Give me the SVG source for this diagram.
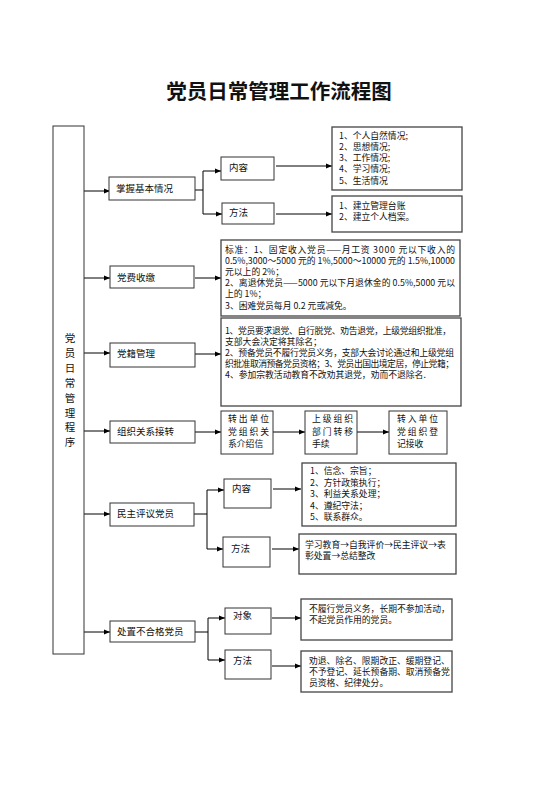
<svg xmlns="http://www.w3.org/2000/svg" width="560" height="792" viewBox="0 0 560 792">
<style>
text{font-family:"Noto Sans CJK SC","Noto Sans",sans-serif;fill:#111;}
.title{font-size:20.5px;font-weight:bold;}
.lbl{font-size:9.5px;}
.t{font-size:8.8px;}
.box{fill:#fff;stroke:#333;stroke-width:1;}
.cbox{fill:#fff;stroke:#444;stroke-width:1.3;}
.ln{fill:none;stroke:#000;stroke-width:1;}
.arr{fill:none;stroke:#000;stroke-width:1;marker-end:url(#ah);}
</style>
<defs>
<marker id="ah" markerUnits="userSpaceOnUse" markerWidth="7" markerHeight="6" refX="6" refY="3" orient="auto">
<path d="M0,0.5 L6,3 L0,5.5 z" fill="#000"/>
</marker>
</defs>
<rect width="560" height="792" fill="#fff"/>
<text class="title" x="279" y="99" text-anchor="middle">党员日常管理工作流程图</text>

<g id="connectors">
<line class="arr" x1="84" y1="191" x2="110" y2="191"/>
<line class="ln" x1="195" y1="190" x2="203" y2="190"/>
<line class="ln" x1="203" y1="171" x2="203" y2="214"/>
<line class="arr" x1="203" y1="171" x2="221" y2="171"/>
<line class="arr" x1="203" y1="214" x2="222" y2="214"/>
<line class="arr" x1="276" y1="166" x2="332" y2="166"/>
<line class="arr" x1="276" y1="214" x2="332" y2="214"/>
<line class="arr" x1="84" y1="278" x2="110" y2="278"/>
<line class="arr" x1="195" y1="278" x2="221" y2="278"/>
<line class="arr" x1="84" y1="353" x2="110" y2="353"/>
<line class="arr" x1="195" y1="354" x2="221" y2="354"/>
<line class="arr" x1="84" y1="431" x2="110" y2="431"/>
<line class="arr" x1="195" y1="432" x2="221" y2="432"/>
<line class="arr" x1="273" y1="432" x2="305" y2="432"/>
<line class="arr" x1="357" y1="432" x2="389" y2="432"/>
<line class="arr" x1="84" y1="514" x2="110" y2="514"/>
<line class="ln" x1="194" y1="514" x2="207" y2="514"/>
<line class="ln" x1="207" y1="490" x2="207" y2="549"/>
<line class="arr" x1="207" y1="490" x2="224" y2="490"/>
<line class="arr" x1="207" y1="549" x2="223" y2="549"/>
<line class="arr" x1="273" y1="489" x2="301" y2="489"/>
<line class="arr" x1="272" y1="549" x2="299" y2="549"/>
<line class="arr" x1="84" y1="632" x2="110" y2="632"/>
<line class="ln" x1="195" y1="632" x2="208" y2="632"/>
<line class="ln" x1="208" y1="618" x2="208" y2="660"/>
<line class="arr" x1="208" y1="618" x2="225" y2="618"/>
<line class="arr" x1="208" y1="660" x2="225" y2="660"/>
<line class="arr" x1="272" y1="618" x2="301" y2="618"/>
<line class="arr" x1="272" y1="666" x2="301" y2="666"/>
</g>

<g id="main">
<rect class="box" x="53" y="126" width="31" height="528"/>
<text class="lbl" x="70" y="342" text-anchor="middle" style="font-size:10.5px">党</text>
<text class="lbl" x="70" y="357" text-anchor="middle" style="font-size:10.5px">员</text>
<text class="lbl" x="70" y="372" text-anchor="middle" style="font-size:10.5px">日</text>
<text class="lbl" x="70" y="387" text-anchor="middle" style="font-size:10.5px">常</text>
<text class="lbl" x="70" y="402" text-anchor="middle" style="font-size:10.5px">管</text>
<text class="lbl" x="70" y="417" text-anchor="middle" style="font-size:10.5px">理</text>
<text class="lbl" x="70" y="431" text-anchor="middle" style="font-size:10.5px">程</text>
<text class="lbl" x="70" y="446" text-anchor="middle" style="font-size:10.5px">序</text>
</g>

<g id="s1">
<rect class="box" x="109" y="177" width="86" height="23"/>
<text class="lbl" x="116" y="192">掌握基本情况</text>
<rect class="box" x="221" y="157" width="53" height="23"/>
<text class="lbl" x="229" y="171">内容</text>
<rect class="box" x="222" y="203" width="52" height="21"/>
<text class="lbl" x="229" y="216">方法</text>
<rect class="cbox" x="332" y="127" width="130" height="63"/>
<text class="t" x="339" y="139">1、个人自然情况;</text>
<text class="t" x="339" y="150">2、思想情况;</text>
<text class="t" x="339" y="161">3、工作情况;</text>
<text class="t" x="339" y="172">4、学习情况;</text>
<text class="t" x="339" y="184">5、生活情况</text>
<rect class="cbox" x="332" y="196" width="130" height="36"/>
<text class="t" x="339" y="209">1、建立管理台账</text>
<text class="t" x="339" y="220">2、建立个人档案。</text>
</g>

<g id="s2">
<rect class="box" x="110" y="266" width="84" height="22"/>
<text class="lbl" x="117" y="281">党费收缴</text>
<rect class="cbox" x="221" y="240" width="239" height="76"/>
<text class="t" x="225" y="253" textLength="230" lengthAdjust="spacing">标准：1、固定收入党员——月工资  3000  元以下收入的</text>
<text class="t" x="225" y="264" textLength="230" lengthAdjust="spacing">0.5%,3000～5000 元的 1%,5000～10000 元的 1.5%,10000</text>
<text class="t" x="225" y="275">元以上的 2%；</text>
<text class="t" x="225" y="286" textLength="230" lengthAdjust="spacing">2、离退休党员——5000 元以下月退休金的 0.5%,5000 元以</text>
<text class="t" x="225" y="297">上的 1%；</text>
<text class="t" x="225" y="309">3、困难党员每月 0.2 元或减免。</text>
</g>

<g id="s3">
<rect class="box" x="110" y="343" width="85" height="24"/>
<text class="lbl" x="117" y="357">党籍管理</text>
<rect class="cbox" x="221" y="318" width="240" height="88"/>
<text class="t" x="225" y="334" textLength="226" lengthAdjust="spacing">1、党员要求退党、自行脱党、劝告退党，上级党组织批准，</text>
<text class="t" x="225" y="345">支部大会决定将其除名；</text>
<text class="t" x="225" y="356" textLength="229" lengthAdjust="spacing">2、预备党员不履行党员义务，支部大会讨论通过和上级党组</text>
<text class="t" x="225" y="367" textLength="229" lengthAdjust="spacing">织批准取消预备党员资格；3、党员出国出境定居，停止党籍；</text>
<text class="t" x="225" y="378">4、参加宗教活动教育不改劝其退党，劝而不退除名.</text>
</g>

<g id="s4">
<rect class="box" x="110" y="421" width="85" height="22"/>
<text class="lbl" x="117" y="435">组织关系接转</text>
<rect class="box" x="221" y="411" width="52" height="43"/>
<text class="t" x="228" y="422" textLength="41" lengthAdjust="spacing">转出单位</text>
<text class="t" x="228" y="435" textLength="41" lengthAdjust="spacing">党组织关</text>
<text class="t" x="228" y="447">系介绍信</text>
<rect class="box" x="305" y="411" width="52" height="43"/>
<text class="t" x="312" y="422" textLength="41" lengthAdjust="spacing">上级组织</text>
<text class="t" x="312" y="435" textLength="41" lengthAdjust="spacing">部门转移</text>
<text class="t" x="312" y="447">手续</text>
<rect class="box" x="389" y="411" width="58" height="43"/>
<text class="t" x="397" y="422" textLength="41" lengthAdjust="spacing">转入单位</text>
<text class="t" x="397" y="435" textLength="41" lengthAdjust="spacing">党组织登</text>
<text class="t" x="397" y="447">记接收</text>
</g>

<g id="s5">
<rect class="box" x="110" y="503" width="84" height="23"/>
<text class="lbl" x="117" y="517">民主评议党员</text>
<rect class="box" x="224" y="479" width="47" height="29"/>
<text class="lbl" x="232" y="492">内容</text>
<rect class="box" x="223" y="537" width="47" height="30"/>
<text class="lbl" x="231" y="552">方法</text>
<rect class="cbox" x="302" y="463" width="154" height="63"/>
<text class="t" x="310" y="474">1、信念、宗旨；</text>
<text class="t" x="310" y="485.5">2、方针政策执行；</text>
<text class="t" x="310" y="497">3、利益关系处理；</text>
<text class="t" x="310" y="508.5">4、遵纪守法；</text>
<text class="t" x="310" y="520">5、联系群众。</text>
<rect class="cbox" x="299" y="534" width="157" height="40"/>
<text class="t" x="305" y="548">学习教育→自我评价→民主评议→表</text>
<text class="t" x="305" y="559">彰处置→总结整改</text>
</g>

<g id="s6">
<rect class="box" x="110" y="621" width="85" height="21"/>
<text class="lbl" x="117" y="635">处置不合格党员</text>
<rect class="box" x="225" y="608" width="46" height="26"/>
<text class="lbl" x="233" y="619">对象</text>
<rect class="box" x="225" y="650" width="46" height="29"/>
<text class="lbl" x="233" y="664">方法</text>
<rect class="cbox" x="301" y="599" width="151" height="41"/>
<text class="t" x="309" y="612">不履行党员义务，长期不参加活动，</text>
<text class="t" x="309" y="623">不起党员作用的党员。</text>
<rect class="cbox" x="301" y="651" width="151" height="41"/>
<text class="t" x="309" y="664">劝退、除名、限期改正、缓期登记、</text>
<text class="t" x="309" y="675">不予登记、延长预备期、取消预备党</text>
<text class="t" x="309" y="686">员资格、纪律处分。</text>
</g>
</svg>
